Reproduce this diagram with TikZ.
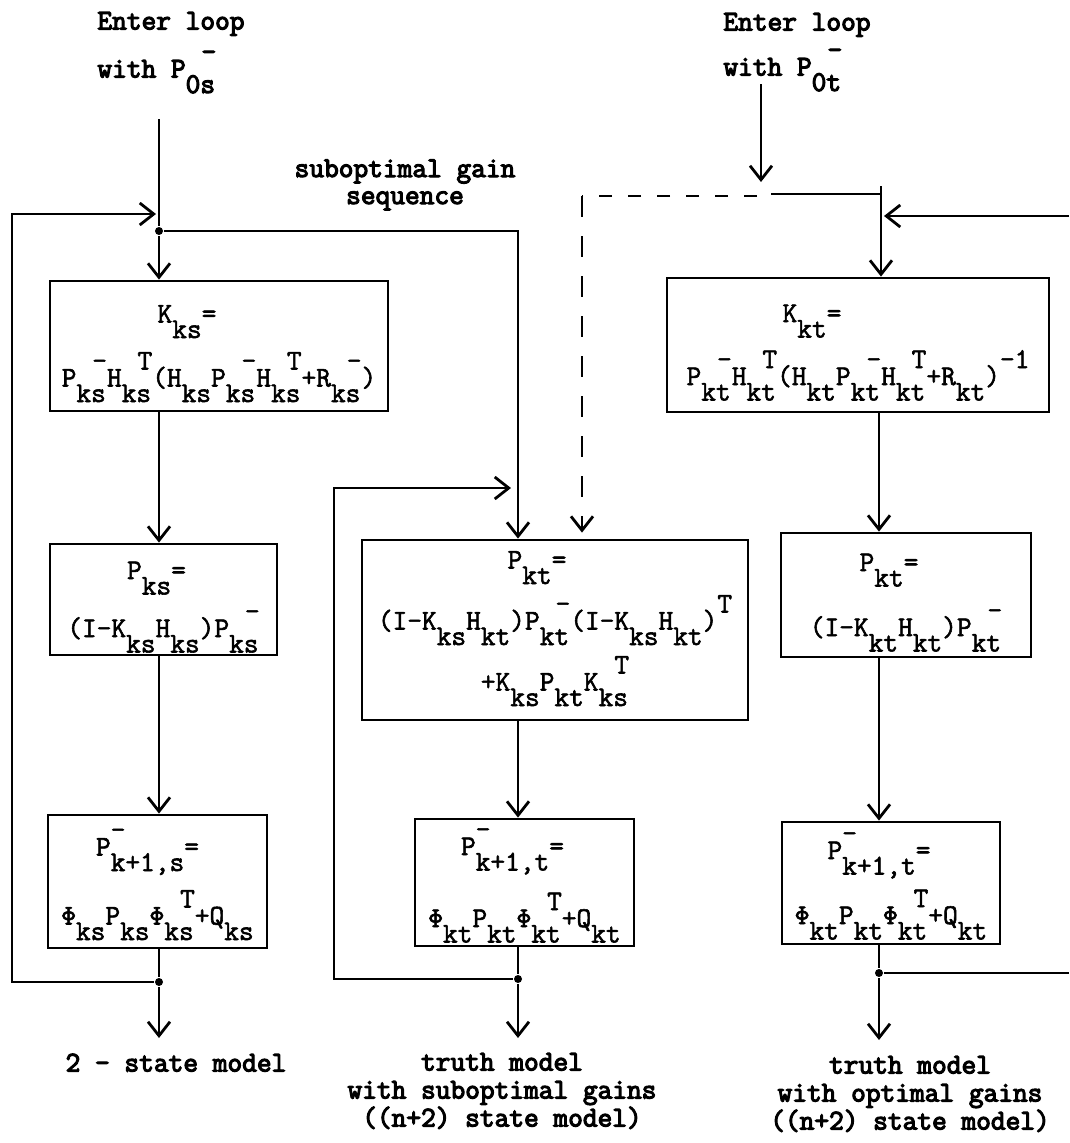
\documentclass[tikz,border=0pt]{standalone}
\usepackage{fontspec}
\newfontfamily\twm[FakeBold=2]{Latin Modern Mono}
\newfontfamily\twb[FakeBold=4]{Latin Modern Mono}
\usetikzlibrary{arrows.meta}

% typewriter-style indices: full-size characters moved down or up
\newcommand{\Sb}[1]{\raisebox{-15.5pt}[0pt][0pt]{#1}}
\newcommand{\Sp}[1]{\kern-13.6pt\raisebox{17pt}[0pt][0pt]{#1}}
\newcommand{\Su}[1]{\raisebox{17pt}[0pt][0pt]{#1}}
\newcommand{\Sz}[1]{\makebox[0pt][l]{\raisebox{17pt}[0pt][0pt]{#1}}}
\newcommand{\Lft}[2]{\hbox{#2\kern#1}}

\begin{document}
\begin{tikzpicture}[x=1pt,y=-1pt,
  line width=2.8pt,
  arr/.style={-{Straight Barb[length=14pt,width=22pt]}},
  tbox/.style={draw, line width=2.8pt, inner sep=0pt, align=center, text depth=0pt},
  lab/.style={inner sep=0pt, align=center, text depth=0pt, font=\fontsize{28.57pt}{28pt}\selectfont\twb},
  dot/.style={circle, fill=black, inner sep=0pt, minimum size=8pt},
  hdash/.style={dash pattern=on 13pt off 16pt},
  vdash/.style={dash pattern=on 21pt off 19pt}]

\fill[white] (0,0) rectangle (1069,1143);
\useasboundingbox (0,0) rectangle (1069,1143);

% column positions
\coordinate (cL) at (159,0);
\coordinate (cM) at (518,0);
\coordinate (cR) at (879,0);

% ---------- boxes ----------
\node[tbox, minimum width=338pt, minimum height=130pt, text height=81pt,
      font=\fontsize{28.57pt}{64pt}\selectfont\twm] (kks) at (219,346)
  {\Lft{64pt}{K\Sb{ks}=}\\P\Sb{ks}\Sp{-}H\Sb{ks}\Sp{T}(H\Sb{ks}P\Sb{ks}\Sp{-}H\Sb{ks}\Sp{T}+R\Sb{ks}\Sp{-})};

\node[tbox, minimum width=382pt, minimum height=134pt, text height=80pt,
      font=\fontsize{28.57pt}{63pt}\selectfont\twm] (kkt) at (858,345)
  {\Lft{92pt}{K\Sb{kt}=}\\P\Sb{kt}\Sp{-}H\Sb{kt}\Sp{T}(H\Sb{kt}P\Sb{kt}\Sp{-}H\Sb{kt}\Sp{T}+R\Sb{kt})\Su{-1}};

\node[tbox, minimum width=227pt, minimum height=111pt, text height=75pt,
      font=\fontsize{28.57pt}{58pt}\selectfont\twm] (pks) at (163.5,599.5)
  {\Lft{14pt}{P\Sb{ks}=}\\(I-K\Sb{ks}H\Sb{ks})P\Sb{ks}\Sp{-}};

\node[tbox, minimum width=386pt, minimum height=180pt, text height=121pt,
      font=\fontsize{28.57pt}{61pt}\selectfont\twm] (mid) at (555,630)
  {\Lft{36pt}{P\Sb{kt}=}\\(I-K\Sb{ks}H\Sb{kt})P\Sb{kt}\Sp{-}(I-K\Sb{ks}H\Sb{kt})\Su{T}\\+K\Sb{ks}P\Sb{kt}K\Sb{ks}\Sp{T}};

\node[tbox, minimum width=250pt, minimum height=124pt, text height=82pt,
      font=\fontsize{28.57pt}{65pt}\selectfont\twm] (pkt) at (906,595)
  {\Lft{34pt}{P\Sb{kt}=}\\(I-K\Sb{kt}H\Sb{kt})P\Sb{kt}\Sp{-}};

\node[tbox, minimum width=219pt, minimum height=133pt, text height=86pt,
      font=\fontsize{28.57pt}{69pt}\selectfont\twm] (pas) at (157.5,881.5)
  {\Lft{20pt}{P\Sz{-}\Sb{k+1,s}=}\\Φ\Sb{ks}P\Sb{ks}Φ\Sb{ks}\Sp{T}+Q\Sb{ks}};

\node[tbox, minimum width=219pt, minimum height=127pt, text height=89pt,
      font=\fontsize{28.57pt}{72pt}\selectfont\twm] (pat) at (524.5,882.5)
  {\Lft{24pt}{P\Sz{-}\Sb{k+1,t}=}\\Φ\Sb{kt}P\Sb{kt}Φ\Sb{kt}\Sp{T}+Q\Sb{kt}};

\node[tbox, minimum width=218pt, minimum height=122pt, text height=82pt,
      font=\fontsize{28.57pt}{65pt}\selectfont\twm] (pao) at (891,883)
  {\Lft{24pt}{P\Sz{-}\Sb{k+1,t}=}\\Φ\Sb{kt}P\Sb{kt}Φ\Sb{kt}\Sp{T}+Q\Sb{kt}};

% ---------- labels ----------
\node[lab, align=left, anchor=west, text height=65pt,
      font=\fontsize{28.57pt}{48pt}\selectfont\twb] (entL) at (96,45)
  {Enter loop\\with P\Sb{0s}\Sp{-}};
\node[lab, align=left, anchor=west, text height=62pt,
      font=\fontsize{28.57pt}{45pt}\selectfont\twb] (entR) at (722,44.5)
  {Enter loop\\with P\Sb{0t}\Sp{-}};
\node[lab, text height=40pt,
      font=\fontsize{28.57pt}{27pt}\selectfont\twb] (seq) at (405,184)
  {suboptimal gain\\sequence};
\node[lab, anchor=base] (outLtxt) at (176,1071.5) {2 - state model};
\node[lab, text height=69pt] (outMtxt) at (502,1092)
  {truth model\\with suboptimal gains\\((n+2) state model)};
\node[lab, text height=69pt] (outRtxt) at (910,1095)
  {truth model\\with optimal gains\\((n+2) state model)};

% ---------- left loop: 2-state model ----------
\coordinate (inL) at (159,119);
\node[dot] (jL) at (159,231) {};
\coordinate (cornL) at (12,214);
\coordinate (backL) at (156,214);
\node[dot] (oL) at (159,982) {};
\coordinate (outL) at (159,1038);

\draw (inL) -- (jL);
\draw[arr] (jL) -- (kks.north -| cL);
\draw[arr] (kks.south -| cL) -- (pks.north -| cL);
\draw[arr] (pks.south -| cL) -- (pas.north -| cL);
\draw (pas.south -| cL) -- (oL);
\draw[arr] (oL) -- (outL);
\draw[arr] (oL) -| (cornL) -- (backL);

% suboptimal gains handed to the truth model
\draw[arr] (jL) -| (mid.north -| cM);

% ---------- middle loop: truth model, suboptimal gains ----------
\node[dot] (oM) at (518,979) {};
\coordinate (cornM) at (334,488);
\coordinate (backM) at (511,488);
\coordinate (outM) at (518,1038);

\draw[arr] (mid.south -| cM) -- (pat.north -| cM);
\draw (pat.south -| cM) -- (oM);
\draw[arr] (oM) -- (outM);
\draw[arr] (oM) -| (cornM) -- (backM);

% ---------- right loop: truth model, optimal gains ----------
\coordinate (inR) at (761,84);
\coordinate (tipR) at (761,182);
\coordinate (dA) at (757,196);
\coordinate (dB) at (582,196);
\coordinate (sA) at (771,194);
\coordinate (sB) at (881,194);
\coordinate (sT) at (881,186);
\coordinate (edgeT) at (1069,216);
\coordinate (backR) at (884,216);
\node[dot] (oR) at (879,973) {};
\coordinate (outR) at (879,1040);
\coordinate (edgeB) at (1069,973);

\draw[arr] (inR) -- (tipR);
\draw[hdash] (dA) -- (dB);
\draw[vdash, arr, shorten >=6pt] (dB) -- (mid.north -| dB);
\draw (sA) -- (sB);
\draw[arr] (sT) -- (kkt.north -| sB);
\draw[arr] (edgeT) -- (backR);

\draw[arr] (kkt.south -| cR) -- (pkt.north -| cR);
\draw[arr] (pkt.south -| cR) -- (pao.north -| cR);
\draw (pao.south -| cR) -- (oR);
\draw[arr] (oR) -- (outR);
\draw (oR) -- (edgeB);

\end{tikzpicture}
\end{document}
